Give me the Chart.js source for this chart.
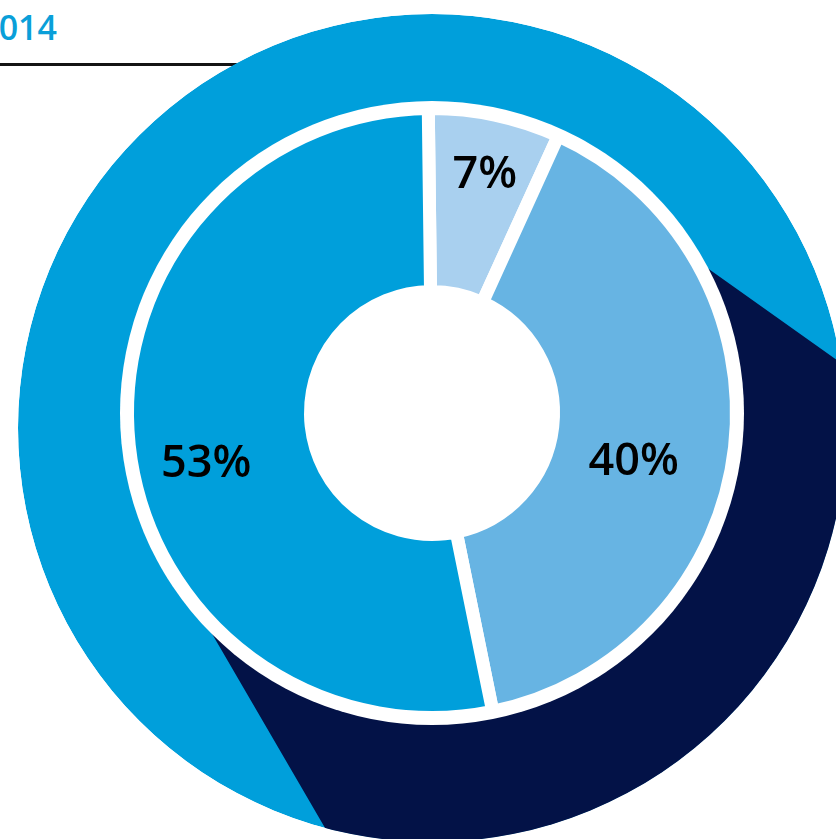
<!DOCTYPE html>
<html lang="fr">
<head>
<meta charset="UTF-8">
<title>Répartition 2014</title>
<script src="https://cdn.jsdelivr.net/npm/chart.js@4.4.1/dist/chart.umd.min.js"></script>
<style>
    html, body { margin: 0; padding: 0; background: #fff; }
    body { width: 836px; height: 839px; position: relative; overflow: hidden; font-family: 'Open Sans', sans-serif; }
    .annee { position: absolute; left: -200px; width: 257px; top: 10px; text-align: right; font-size: 34px; line-height: 34px; font-weight: 600; color: #0a9fd9; z-index: 1; }
    .filet { position: absolute; left: 0; top: 63px; width: 300px; height: 3px; background: #141414; z-index: 1; }
    .anneau { position: absolute; left: 18px; top: 14px; width: 828px; height: 828px; border-radius: 50%; overflow: hidden; z-index: 2; }
    #discChart { position: absolute; left: 0; top: 0; }
    #bandeChart { position: absolute; left: -2338px; top: -2424px; }
    .plateau { position: absolute; left: 120px; top: 101px; width: 624px; height: 624px; border-radius: 50%; background: #fff; z-index: 3; }
    #shareChart { position: absolute; left: 82px; top: 63px; z-index: 4; }
</style>
</head>
<body>
    <div class="annee">2014</div>
    <div class="filet"></div>
    <div class="anneau">
        <canvas id="discChart" width="828" height="828"></canvas>
        <canvas id="bandeChart" width="3640" height="3640"></canvas>
    </div>
    <div class="plateau"></div>
    <canvas id="shareChart" width="700" height="700"></canvas>

<script>
// Parts du donut intérieur (en %)
const shareValues = [7, 40, 53];
const shareLabels = shareValues.map(v => v + '%');
const shareColors = ['#a9d0ef', '#67b4e3', '#009fdb'];

// Grand disque bleu en fond
const discValues = [100];
const discColors = ['#009fdb'];

// Bande foncée : part du tour vue depuis son sommet, le reste est vide
const bandeLabels = ['Bande', 'Vide'];
const bandeValues = [6.78, 93.22];
const bandeColors = ['#031247', 'rgba(0,0,0,0)'];

// Écrit la valeur de chaque part dans son secteur
const etiquettesPlugin = {
    id: 'etiquettes',
    afterDatasetsDraw(chart, args, opts) {
        const ctx = chart.ctx;
        const meta = chart.getDatasetMeta(0);
        const values = chart.data.datasets[0].data;
        ctx.save();
        ctx.font = opts.font;
        ctx.fillStyle = opts.color;
        ctx.textAlign = 'center';
        ctx.textBaseline = 'alphabetic';
        meta.data.forEach((arc, i) => {
            const pos = arc.tooltipPosition();
            const d = opts.decalages[i] || [0, 0];
            ctx.fillText(values[i] + '%', pos.x + d[0], pos.y + d[1]);
        });
        ctx.restore();
    }
};

const sansInteraction = {
    responsive: false,
    animation: false,
    events: [],
    devicePixelRatio: 1
};

document.addEventListener('DOMContentLoaded', function () {
    initDisc();
    initBande();
    initShares();
});

function initDisc() {
    new Chart(document.getElementById('discChart'), {
        type: 'pie',
        data: {
            labels: ['Fond'],
            datasets: [{ data: discValues, backgroundColor: discColors, borderWidth: 0, hoverBorderWidth: 0 }]
        },
        options: {
            ...sansInteraction,
            plugins: { legend: { display: false }, tooltip: { enabled: false } }
        }
    });
}

function initBande() {
    // donut géant dont le sommet est hors cadre ; seule la partie basse reste visible
    new Chart(document.getElementById('bandeChart'), {
        type: 'doughnut',
        data: {
            labels: bandeLabels,
            datasets: [{ data: bandeValues, backgroundColor: bandeColors, borderWidth: 0, hoverBorderWidth: 0 }]
        },
        options: {
            ...sansInteraction,
            rotation: 125.4,
            radius: 1820,
            cutout: (1340 / 1820 * 100) + '%',
            plugins: { legend: { display: false }, tooltip: { enabled: false } }
        }
    });
}

function initShares() {
    new Chart(document.getElementById('shareChart'), {
        type: 'doughnut',
        data: {
            labels: shareLabels,
            datasets: [{
                data: shareValues,
                backgroundColor: shareColors,
                borderColor: '#ffffff',
                borderWidth: 13,
                hoverBorderWidth: 13
            }]
        },
        options: {
            ...sansInteraction,
            rotation: -0.7,
            radius: 304.5,
            cutout: (121.5 / 304.5 * 100) + '%',
            plugins: {
                legend: { display: false },
                tooltip: { enabled: false },
                etiquettes: {
                    font: '600 45px "Open Sans"',
                    color: '#000000',
                    decalages: [[9, -17], [-10, 38], [-14, 41]]
                }
            }
        },
        plugins: [etiquettesPlugin]
    });
}
</script>
</body>
</html>
